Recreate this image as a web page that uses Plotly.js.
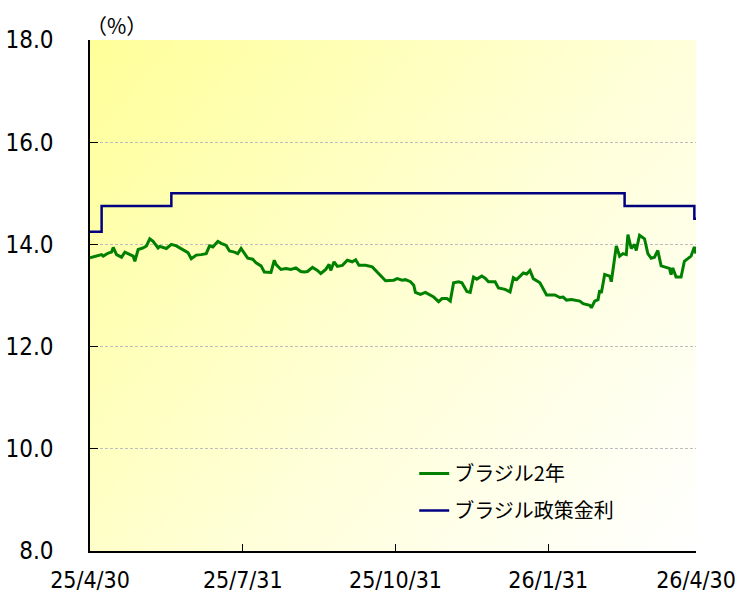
<!DOCTYPE html>
<html>
<head>
<meta charset="utf-8">
<script src="https://cdn.plot.ly/plotly-3.0.1.min.js"></script>
<style>html,body{margin:0;padding:0;background:#fff;}#chart{width:737px;height:592px;}</style>
</head>
<body>
<div id="chart"></div>
<script>
// ---- data ----
const seriesNames = ['ブラジル2年', 'ブラジル政策金利'];

const yieldDates = ['2025-04-30','2025-05-03','2025-05-07','2025-05-08','2025-05-11','2025-05-13','2025-05-14','2025-05-16','2025-05-19','2025-05-21','2025-05-24','2025-05-26','2025-05-27','2025-05-29','2025-06-01','2025-06-03','2025-06-05','2025-06-07','2025-06-10','2025-06-11','2025-06-15','2025-06-18','2025-06-21','2025-06-24','2025-06-28','2025-06-30','2025-07-03','2025-07-06','2025-07-09','2025-07-11','2025-07-13','2025-07-16','2025-07-18','2025-07-21','2025-07-23','2025-07-26','2025-07-28','2025-07-30','2025-08-01','2025-08-03','2025-08-06','2025-08-08','2025-08-11','2025-08-13','2025-08-17','2025-08-19','2025-08-20','2025-08-23','2025-08-26','2025-08-29','2025-09-01','2025-09-04','2025-09-06','2025-09-08','2025-09-11','2025-09-14','2025-09-16','2025-09-19','2025-09-21','2025-09-22','2025-09-24','2025-09-26','2025-09-29','2025-10-02','2025-10-05','2025-10-07','2025-10-09','2025-10-13','2025-10-17','2025-10-21','2025-10-25','2025-10-30','2025-11-01','2025-11-04','2025-11-06','2025-11-09','2025-11-11','2025-11-12','2025-11-15','2025-11-18','2025-11-20','2025-11-23','2025-11-26','2025-11-28','2025-12-01','2025-12-03','2025-12-05','2025-12-08','2025-12-10','2025-12-13','2025-12-15','2025-12-17','2025-12-19','2025-12-22','2025-12-24','2025-12-26','2025-12-30','2026-01-01','2026-01-05','2026-01-08','2026-01-10','2026-01-12','2026-01-16','2026-01-18','2026-01-20','2026-01-22','2026-01-26','2026-01-30','2026-02-04','2026-02-07','2026-02-09','2026-02-11','2026-02-14','2026-02-19','2026-02-21','2026-02-25','2026-02-26','2026-02-28','2026-03-02','2026-03-03','2026-03-04','2026-03-06','2026-03-09','2026-03-10','2026-03-13','2026-03-15','2026-03-17','2026-03-19','2026-03-20','2026-03-22','2026-03-24','2026-03-25','2026-03-27','2026-03-30','2026-04-01','2026-04-03','2026-04-05','2026-04-07','2026-04-09','2026-04-11','2026-04-14','2026-04-15','2026-04-16','2026-04-18','2026-04-21','2026-04-23','2026-04-25','2026-04-27','2026-04-29','2026-04-30'];

const yieldValues = [13.74,13.77,13.80,13.77,13.83,13.85,13.94,13.80,13.75,13.85,13.80,13.77,13.67,13.90,13.93,13.97,14.11,14.06,13.93,13.96,13.92,14.00,13.97,13.92,13.84,13.72,13.79,13.80,13.82,13.97,13.95,14.06,14.02,13.98,13.87,13.85,13.82,13.92,13.82,13.73,13.71,13.64,13.58,13.46,13.45,13.69,13.61,13.51,13.53,13.51,13.54,13.47,13.46,13.47,13.55,13.49,13.43,13.51,13.61,13.49,13.66,13.57,13.59,13.69,13.66,13.70,13.59,13.59,13.56,13.43,13.29,13.30,13.33,13.30,13.31,13.27,13.20,13.06,13.02,13.06,13.02,12.97,12.88,12.94,12.94,12.89,13.25,13.27,13.25,13.08,13.06,13.36,13.32,13.38,13.34,13.27,13.27,13.15,13.12,13.07,13.35,13.31,13.44,13.42,13.49,13.33,13.25,13.01,13.01,12.96,12.97,12.91,12.92,12.89,12.84,12.81,12.76,12.89,12.92,13.10,13.05,13.41,13.38,13.27,13.97,13.77,13.82,13.80,14.19,13.92,14.00,13.88,14.18,14.11,13.82,13.73,13.75,13.88,13.58,13.56,13.53,13.41,13.54,13.36,13.36,13.67,13.72,13.77,13.95,13.82];

const rateDates = ['2025-04-30','2025-05-07','2025-06-18','2026-03-18','2026-04-29','2026-04-30'];
const rateValues = [14.25,14.75,15.00,14.75,14.50,14.50];

const xTickVals = ['2025-04-30','2025-07-31','2025-10-31','2026-01-31','2026-04-30'];
const xTickText = ['25/4/30','25/7/31','25/10/31','26/1/31','26/4/30'];
const yTickVals = [8,10,12,14,16,18];

// ---- background gradient ----
function gradientURL(){
  const c = document.createElement('canvas');
  c.width = 606; c.height = 511;
  const g = c.getContext('2d');
  const lg = g.createLinearGradient(0,0,606,511);
  lg.addColorStop(0,'#ffff99');
  lg.addColorStop(0.55,'#ffffd8');
  lg.addColorStop(1,'#ffffff');
  g.fillStyle = lg; g.fillRect(0,0,606,511);
  return c.toDataURL('image/png');
}

const numFont = 'DejaVu Sans Condensed, DejaVu Sans, sans-serif';
const jpFont = 'Noto Sans CJK JP, sans-serif';

const traces = [
  {x: yieldDates, y: yieldValues, type:'scatter', mode:'lines', name: seriesNames[0],
   legendgroup:'a', line:{color:'#008000', width:3}},
  {x: rateDates, y: rateValues, type:'scatter', mode:'lines', name: seriesNames[1],
   legendgroup:'b', line:{color:'#000080', width:2.5, shape:'hv'}}
];

const layout = {
  width:737, height:592,
  margin:{l:90, r:41, t:40, b:41},
  paper_bgcolor:'#ffffff',
  plot_bgcolor:'rgba(0,0,0,0)',
  showlegend:true,
  hovermode:false,
  legend:{x:0.535, y:0.19, xanchor:'left', yanchor:'top', bgcolor:'rgba(0,0,0,0)',
          font:{family:jpFont, size:20, color:'#000'}, traceorder:'grouped', tracegroupgap:8},
  xaxis:{type:'date', range:['2025-04-30','2026-04-30'], tickmode:'array',
         tickvals:xTickVals, ticktext:xTickText, ticks:'inside', ticklen:7, tickwidth:1.2, tickcolor:'#000',
         showline:true, linecolor:'#000', linewidth:1.6, showgrid:false, zeroline:false,
         ticklabeloverflow:'allow',
         tickfont:{family:numFont, size:23, color:'#000'}, ticklabelstandoff:8, fixedrange:true},
  yaxis:{range:[8,18], tickmode:'array', tickvals:yTickVals, tickformat:'.1f',
         ticks:'inside', ticklen:8, tickwidth:1.2, tickcolor:'#000',
         showline:true, linecolor:'#000', linewidth:1.6,
         showgrid:true, gridcolor:'#bdbdbd', gridwidth:1, griddash:'3px,2px', zeroline:false,
         tickfont:{family:numFont, size:24, color:'#000'}, ticklabelstandoff:30, fixedrange:true},
  images:[{source: gradientURL(), xref:'paper', yref:'paper', x:0, y:1, sizex:1, sizey:1,
           sizing:'stretch', xanchor:'left', yanchor:'top', layer:'below'}],
  annotations:[{text:'（%）', xref:'paper', yref:'paper', x:0.044, y:1.03, xanchor:'center', yanchor:'middle',
                showarrow:false, font:{family:jpFont, size:21, color:'#000'}}]
};

Plotly.newPlot('chart', traces, layout, {displayModeBar:false, staticPlot:true});
</script>
</body>
</html>
